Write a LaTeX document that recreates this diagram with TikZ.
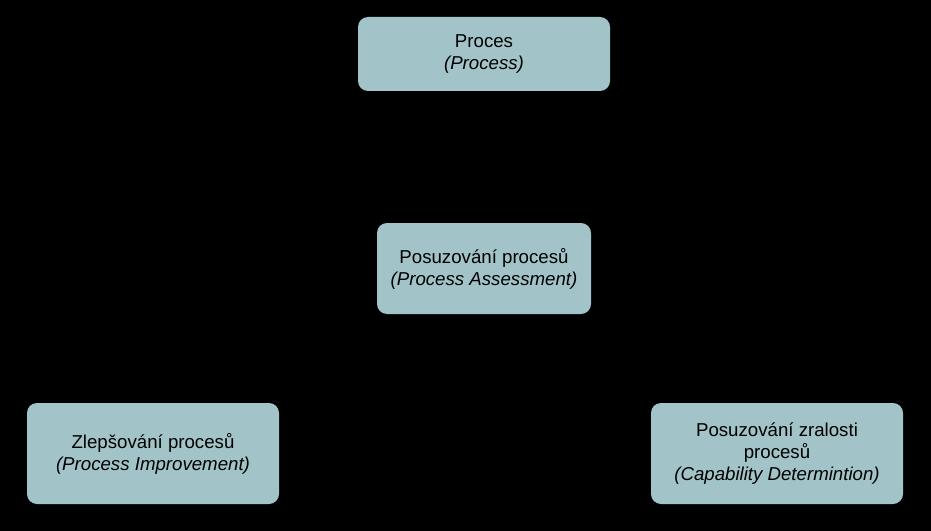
\documentclass[tikz,border=0pt]{standalone}
\usepackage{fontspec}
\setmainfont{Liberation Sans}
\definecolor{boxteal}{HTML}{A2C4C9}

\begin{document}
\begin{tikzpicture}[x=0.75pt,y=-0.75pt]
        % background, fixes the size of the page
        \fill[black] (0,0) rectangle (931,531);
        \useasboundingbox (0,0) rectangle (931,531);

        \tikzset{procbox/.style={draw=none,fill=boxteal,rounded corners=7.5pt,
            align=center,font=\fontsize{14}{16.5}\selectfont,inner sep=0pt}}

        % the four boxes
        \node[procbox,minimum width=189pt,minimum height=55.5pt] (process) at (484,54)
            {Proces\\\textit{(Process)}};
        \node[procbox,minimum width=160.5pt,minimum height=68.25pt] (assess) at (484,268.5)
            {Posuzování procesů\\\textit{(Process Assessment)}};
        \node[procbox,minimum width=189pt,minimum height=75.75pt] (improve) at (153,453.5)
            {Zlepšování procesů\\\textit{(Process Improvement)}};
        \node[procbox,minimum width=189pt,minimum height=75.75pt] (capab) at (777,453.5)
            {Posuzování zralosti\\procesů\\\textit{(Capability Determintion)}};
    \end{tikzpicture}
\end{document}
